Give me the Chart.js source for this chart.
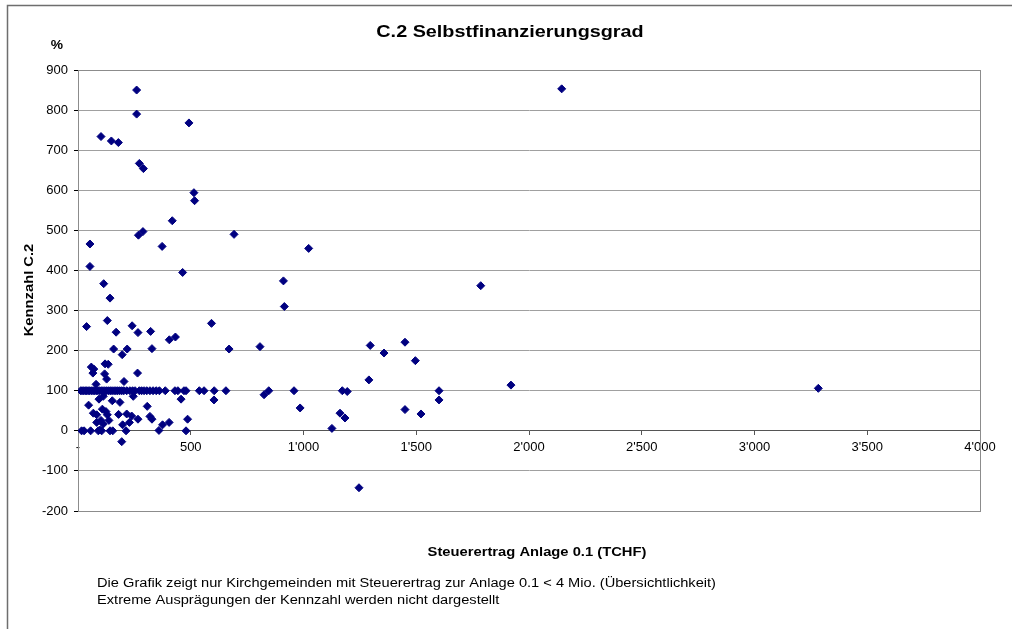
<!DOCTYPE html>
<html>
<head>
<meta charset="utf-8">
<script src="https://cdn.jsdelivr.net/npm/chart.js@4"></script>
<style>
  html, body { margin: 0; padding: 0; background: #fff; }
  #wrap { width: 1012px; height: 629px; position: relative; }
</style>
</head>
<body>
<div id="wrap"><canvas id="chart"></canvas></div>
<script>
// Steuerertrag Anlage 0.1 (TCHF) und Kennzahl C.2 (%) je Kirchgemeinde
const steuerertrag = [
  260, 260, 102, 148, 179, 272, 290, 492, 514, 517, 418, 268, 288, 53, 373, 692, 1023, 2145,
  53, 464, 114, 911, 142, 915, 1786, 130, 592, 38, 240, 169, 266, 322, 405, 432, 158, 218,
  328, 670, 196, 807, 1296, 1450, 1357, 1496, 59, 70, 66, 120, 134, 118, 127, 204, 264, 80,
  1290, 1920, 3283,
  112, 245, 47, 93, 152, 186, 307, 457, 603, 825, 985, 1601, 68, 83, 108, 124, 130, 180,
  216, 238, 266, 319, 328, 83, 102, 112, 137, 198, 228, 375, 404, 486, 1162, 1184, 1450,
  1521, 1126,
  16, 27, 56, 90, 97, 105, 142, 154, 213, 359, 479,
  194, 1246,
  12, 18, 25, 32, 38, 45, 52, 60, 67, 74, 81, 88, 96, 104, 111, 119, 127, 135, 143, 151,
  160, 168, 176, 185, 194, 203, 216, 230, 242, 253, 272, 282, 293, 305, 319, 333, 347, 361,
  387, 430, 443, 470, 479, 538, 559, 604, 656, 846, 958, 1172, 1601, 1194
];
const kennzahl = [
  850, 790, 734, 723, 719, 667, 654, 768, 594, 574, 524, 488, 497, 466, 460, 490, 455, 853,
  410, 395, 367, 374, 331, 310, 362, 275, 268, 260, 262, 246, 245, 248, 227, 234, 204, 204,
  205, 204, 190, 210, 213, 221, 194, 175, 159, 154, 144, 167, 166, 142, 129, 123, 144, 116,
  127, 114, 106,
  86, 86, 64, 79, 75, 71, 61, 79, 77, 90, 57, 77, 44, 40, 54, 48, 40, 41,
  42, 37, 29, 36, 29, 21, 26, 17, 26, 15, 21, 15, 21, 29, 44, 32, 53,
  42, 6,
  0, 0, 0, 0, 2, 0, 0, 0, 0, 1, 0,
  -27, -142,
  100, 100, 100, 100, 100, 100, 100, 100, 100, 100, 100, 100, 100, 100, 100, 100, 100, 100, 100, 100,
  100, 100, 100, 100, 100, 100, 100, 100, 100, 100, 100, 100, 100, 100, 100, 100, 100, 100,
  100, 100, 100, 100, 100, 100, 100, 100, 100, 100, 100, 100, 100, 98
];

const titel = "C.2 Selbstfinanzierungsgrad";
const xTitel = "Steuerertrag Anlage 0.1 (TCHF)";
const yTitel = "Kennzahl C.2";
const hinweise = [
  "Die Grafik zeigt nur Kirchgemeinden mit Steuerertrag zur Anlage 0.1 < 4 Mio. (Übersichtlichkeit)",
  "Extreme Ausprägungen der Kennzahl werden nicht dargestellt"
];

const FONT = "'Liberation Sans', Arial, sans-serif";

function tausender(v) {
  return String(v).replace(/\B(?=(\d{3})+(?!\d))/g, "'");
}

// Text etwas in die Breite gezogen, wie im Original
function text(ctx, t, x, y, size, bold, align, sx, rot) {
  ctx.save();
  ctx.translate(x, y);
  if (rot) ctx.rotate(rot);
  ctx.scale(sx, 1);
  ctx.font = (bold ? 'bold ' : '') + size + 'px ' + FONT;
  ctx.textAlign = align;
  ctx.textBaseline = 'middle';
  ctx.fillStyle = '#000';
  ctx.fillText(t, 0, 0);
  ctx.restore();
}

const deko = {
  id: 'deko',
  beforeDatasetsDraw(chart) {
    const ctx = chart.ctx;
    const a = chart.chartArea;
    ctx.save();
    ctx.strokeStyle = '#8c8c8c';
    ctx.lineWidth = 1;
    ctx.strokeRect(a.left + 0.5, a.top + 0.5, a.right - a.left, a.bottom - a.top);
    ctx.restore();
  },
  afterDraw(chart) {
    const ctx = chart.ctx;
    ctx.save();
    // aeusserer Rahmen
    ctx.strokeStyle = '#6e6e6e';
    ctx.lineWidth = 1.5;
    ctx.beginPath();
    ctx.moveTo(1012, 5.5);
    ctx.lineTo(7.5, 5.5);
    ctx.lineTo(7.5, 629);
    ctx.stroke();
    ctx.restore();

    text(ctx, titel, 510, 32, 16.5, true, 'center', 1.2);
    text(ctx, '%', 57, 46, 12, true, 'center', 1.15);
    text(ctx, xTitel, 537, 553, 12.5, true, 'center', 1.18);
    text(ctx, yTitel, 30, 290, 12.5, true, 'center', 1.18, -Math.PI / 2);
    hinweise.forEach((t, i) => text(ctx, t, 97, 584 + i * 17, 12.5, false, 'left', 1.17));
  }
};

const punkte = steuerertrag.map((x, i) => ({ x: x, y: kennzahl[i] }));

new Chart(document.getElementById('chart'), {
  type: 'scatter',
  data: {
    datasets: [{
      label: 'Kirchgemeinden',
      data: punkte,
      pointStyle: 'rectRot',
      pointRadius: 4,
      pointHoverRadius: 4,
      backgroundColor: '#000080',
      borderColor: '#000080',
      borderWidth: 1
    }]
  },
  options: {
    responsive: true,
    maintainAspectRatio: false,
    animation: false,
    layout: { padding: { left: 0, top: 70, right: 32, bottom: 118 } },
    plugins: {
      legend: { display: false },
      tooltip: { enabled: false },
      title: { display: false }
    },
    scales: {
      x: {
        type: 'linear',
        position: { y: 0 },
        min: 0,
        max: 4000,
        ticks: {
          stepSize: 500,
          color: '#000',
          font: { family: FONT, size: 13 },
          padding: 5,
          maxRotation: 0,
          callback: v => v === 0 ? '-' : tausender(v)
        },
        grid: { drawOnChartArea: false, drawTicks: true, tickLength: 4, color: '#555' },
        border: { color: '#555', width: 1 }
      },
      y: {
        min: -200,
        max: 900,
        afterFit: s => { s.width = 78; },
        ticks: {
          stepSize: 100,
          color: '#000',
          font: { family: FONT, size: 13 },
          padding: 6,
          callback: v => tausender(v)
        },
        grid: { color: '#a0a0a0', tickLength: 4, tickColor: '#000' },
        border: { color: '#000', width: 1 }
      }
    }
  },
  plugins: [deko]
});
</script>
</body>
</html>
